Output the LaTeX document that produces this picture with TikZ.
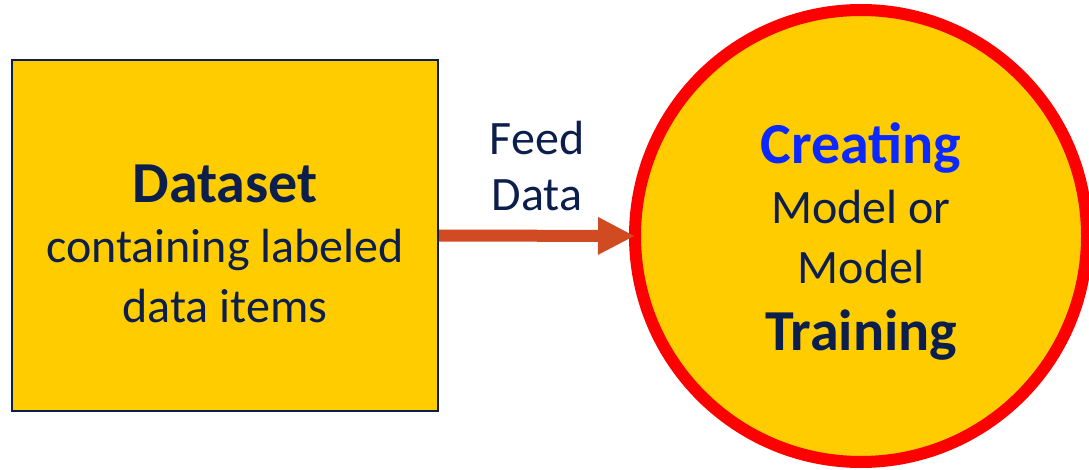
\documentclass[tikz,border=0pt]{standalone}
\usepackage{fontspec}
\setmainfont{Carlito}
\usetikzlibrary{positioning,arrows.meta}
\definecolor{colAmarillo}{HTML}{FFCC00}
\definecolor{colNavy}{HTML}{0C1F4C}
\definecolor{colAzul}{HTML}{0A28FF}
\definecolor{colFlecha}{HTML}{D04A22}
\colorlet{colBorde}{red}
\newcommand{\bigline}[1]{{\fontsize{58}{60}\selectfont\bfseries #1}}

\begin{document}
\begin{tikzpicture}[x=1pt, y=1pt,
    txt/.style={text=colNavy, align=center, font=\fontsize{48}{60}\selectfont},
    datbox/.style={txt, draw=colNavy, line width=2pt, fill=colAmarillo,
        minimum width=426pt, minimum height=351pt, inner sep=0pt},
    modcirc/.style={txt, circle, draw=colBorde, line width=12pt, fill=colAmarillo,
        minimum size=452pt, inner sep=0pt, outer sep=0pt},
    feedarrow/.style={-{Triangle[length=37pt, width=35pt]}, colFlecha, line width=12pt}]
    \useasboundingbox (0, 0) rectangle (1089, 469);

    % Dataset
    \node[datbox] (dataset) at (225, 233.5)
        {\rule{0pt}{54pt}\bigline{Dataset}\\containing labeled\\data items};

    % Modelo
    \node[modcirc] (model) at (861, 233)
        {\rule{0pt}{52pt}\bigline{\color{colAzul}Creating}\\Model or\\Model\\[7pt]\bigline{Training}};

    % Flecha
    \draw[feedarrow] (dataset.east) -- (model.west)
        node[txt, font=\fontsize{48}{56}\selectfont, midway, above=16pt] (feed) {Feed\\Data};
\end{tikzpicture}
\end{document}
